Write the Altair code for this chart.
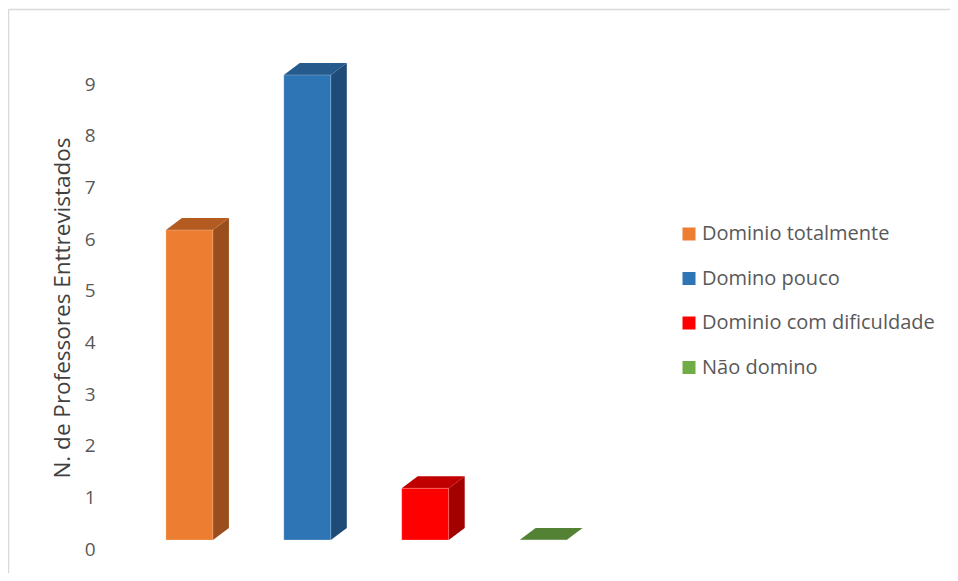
import altair as alt
import pandas as pd

categories = ["Dominio totalmente", "Domino pouco", "Dominio com dificuldade", "Não domino"]
values = [6, 9, 1, 0]
front_colors = ["#ED7D31", "#2E75B6", "#FF0000", "#70AD47"]
side_colors = ["#9A4E1D", "#1F4B78", "#A30000", "#466E2C"]
top_colors = ["#B35B21", "#255A8C", "#C00000", "#548235"]
y_title = "N. de Professores Enttrevistados"

# geometry (in data units) for the pseudo-3D look
W, H = 560, 465
X_DOMAIN = [-0.75, 4.0]
Y_DOMAIN = [0, 9]
px_x = (X_DOMAIN[1] - X_DOMAIN[0]) / W
px_y = (Y_DOMAIN[1] - Y_DOMAIN[0]) / H
half = 23.5 * px_x
ddx = 16 * px_x
ddy = 12 * px_y

FONT = "Open Sans"


def X(field):
    return alt.X(field, type="quantitative", scale=alt.Scale(domain=X_DOMAIN, nice=False, zero=False), axis=None)


def Y(field):
    return alt.Y(field, type="quantitative", scale=alt.Scale(domain=Y_DOMAIN, nice=False), title=y_title,
                 axis=alt.Axis(values=list(range(0, 10)), grid=False, domain=False, ticks=False,
                               labelOffset=9, labelPadding=6, labelFontSize=19, labelColor="#595959",
                               labelFont=FONT, titleFont=FONT, titleFontSize=22.5, titleFontWeight="normal",
                               titleColor="#404040", titlePadding=10))


front_df = pd.DataFrame({
    "cat": categories,
    "x": [i - half for i in range(len(values))],
    "x2": [i + half for i in range(len(values))],
    "y": [0] * len(values),
    "y2": values,
})

# chart frame: only top and left edges are visible in the reference
frame_base = alt.Chart(pd.DataFrame({"a": [0]}))
frame_top = frame_base.mark_rule(stroke="#D9D9D9", strokeWidth=1.5).encode(
    x=alt.value(-92.5), x2=alt.value(849), y=alt.value(-65.5)
)
frame_left = frame_base.mark_rule(stroke="#D9D9D9", strokeWidth=1.5).encode(
    x=alt.value(-92.5), y=alt.value(-65.5), y2=alt.value(498)
)

layers = [frame_top, frame_left]
for i, (c, v) in enumerate(zip(categories, values)):
    side_df = pd.DataFrame({"x": [i + half, i + half + ddx], "y": [v, v + ddy], "y2": [0, ddy]})
    top_df = pd.DataFrame({"y": [v, v + ddy], "x": [i - half, i - half + ddx], "x2": [i + half, i + half + ddx]})
    layers.append(
        alt.Chart(side_df).mark_area(orient="vertical", color=side_colors[i]).encode(
            x=X("x"), y=Y("y"), y2="y2:Q"
        )
    )
    layers.append(
        alt.Chart(top_df).mark_area(orient="horizontal", color=top_colors[i]).encode(
            y=Y("y"), x=X("x"), x2="x2:Q"
        )
    )

front = alt.Chart(front_df).mark_rect(stroke="white", strokeOpacity=0.4, strokeWidth=0.6).encode(
    x=X("x"),
    x2="x2:Q",
    y=Y("y"),
    y2="y2:Q",
    color=alt.Color("cat:N", scale=alt.Scale(domain=categories, range=front_colors),
                    legend=alt.Legend(title=None, orient="none", legendX=578, legendY=149,
                                      symbolType="square", symbolSize=169, symbolStrokeWidth=0,
                                      labelFont=FONT, labelFontSize=20, labelColor="#595959",
                                      labelLimit=0, rowPadding=24.5, labelOffset=3, padding=0)),
)

chart = alt.layer(*layers, front).properties(
    width=W, height=H,
    padding={"left": 93, "top": 67, "right": 289, "bottom": 33},
    autosize="none",
).configure_view(stroke=None)

chart.save("out.html", embed_options={"renderer": "svg", "actions": False})
